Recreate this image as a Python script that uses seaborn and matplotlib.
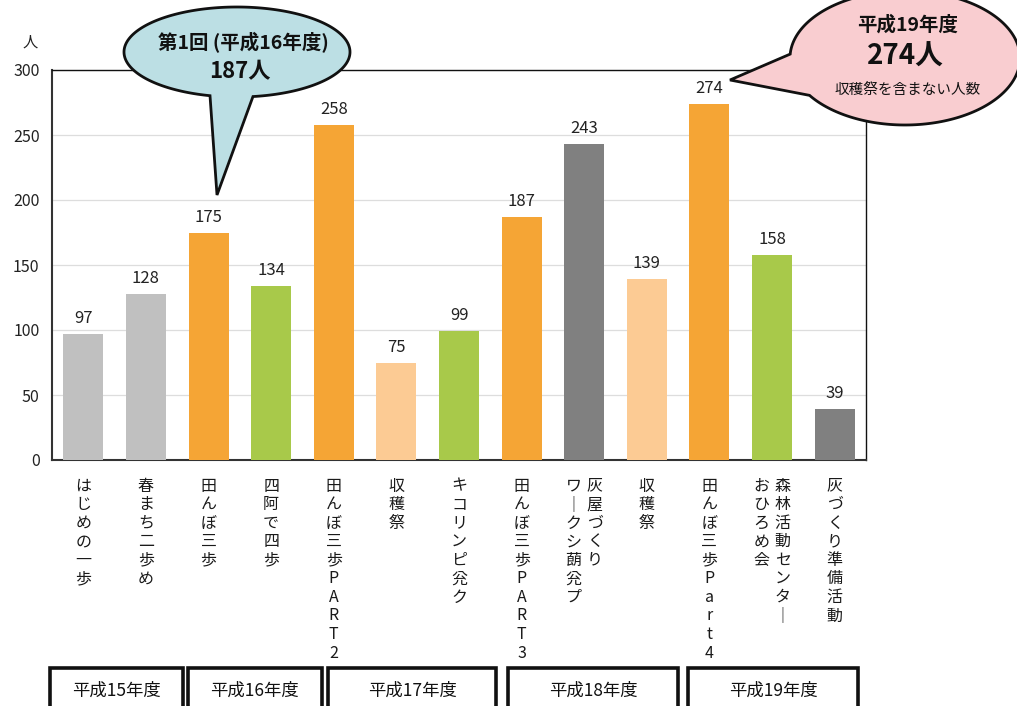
import numpy as np
import pandas as pd
import matplotlib
matplotlib.use("Agg")
import matplotlib.pyplot as plt
import matplotlib.transforms as mtransforms
from matplotlib.patches import Polygon, Rectangle
import seaborn as sns

# ---------------- data ----------------
label_columns = [
    ["はじめの一歩"],
    ["春まち二歩め"],
    ["田んぼ三歩"],
    ["四阿で四歩"],
    ["田んぼ三歩PART2"],
    ["収穫祭"],
    ["キコリンピ兊ク"],
    ["田んぼ三歩PART3"],
    ["灰屋づくり", "ワ｜クシ蓢兊プ"],
    ["収穫祭"],
    ["田んぼ三歩Part4"],
    ["森林活動センタ｜", "おひろめ会"],
    ["灰づくり準備活動"],
]
values = [97, 128, 175, 134, 258, 75, 99, 187, 243, 139, 274, 158, 39]
bar_colors = ["#c0c0c0", "#c0c0c0", "#f5a535", "#a8c94a", "#f5a535", "#fccb94",
              "#a8c94a", "#f5a535", "#808080", "#fccb94", "#f5a535", "#a8c94a", "#808080"]
year_labels = ["平成15年度", "平成16年度", "平成17年度", "平成18年度", "平成19年度"]
year_spans = [(-0.53, 1.59), (1.67, 3.81), (3.91, 6.59), (6.78, 9.50), (9.66, 12.37)]
yticks = [0, 50, 100, 150, 200, 250, 300]

sns.set_theme(style="white")
plt.rcParams["font.family"] = ["Noto Sans CJK JP", "DejaVu Sans"]

W, H = 1017, 706
fig = plt.figure(figsize=(W / 100, H / 100), dpi=100)
ax = fig.add_axes([52 / W, 1 - 460 / H, (866 - 52) / W, (460 - 70) / H])

ids = [f"b{i}" for i in range(len(values))]
df = pd.DataFrame({"id": ids, "value": values})
sns.barplot(data=df, x="id", y="value", hue="id", order=ids, hue_order=ids,
            palette=dict(zip(ids, bar_colors)), saturation=1, width=0.64,
            legend=False, ax=ax, zorder=3, edgecolor="none")

ax.set_xlim(-0.5, len(values) - 0.5)
ax.set_ylim(0, 300)
ax.set_yticks(yticks)
ax.set_yticklabels([str(t) for t in yticks], fontsize=11.5, color="#222222")
ax.tick_params(axis="y", length=0, pad=9)
ax.set_xticks(range(len(values)))
ax.set_xticklabels([])
ax.tick_params(axis="x", length=0)
ax.set_xlabel("")
ax.set_ylabel("")
ax.yaxis.grid(True, color="#dddddd", lw=0.9, zorder=0)
ax.set_axisbelow(True)
for s in ["left", "bottom"]:
    ax.spines[s].set_color("#333333")
    ax.spines[s].set_linewidth(1.5)
for s in ["top", "right"]:
    ax.spines[s].set_color("#111111")
    ax.spines[s].set_linewidth(1.0)

# value labels
for i, v in enumerate(values):
    ax.annotate(str(v), (i, v), xytext=(0, 5), textcoords="offset points",
                ha="center", va="bottom", fontsize=12, color="#222222", zorder=5)

# vertical category labels
trans = mtransforms.blended_transform_factory(ax.transData, ax.transAxes)
for i, cols in enumerate(label_columns):
    n = len(cols)
    offsets = [0.0] if n == 1 else [0.17, -0.17]
    for col, off in zip(cols, offsets):
        ax.text(i + off, -0.045, "\n".join(col), transform=trans, ha="center",
                va="top", fontsize=11.5, linespacing=1.12, color="#1a1a1a",
                multialignment="center")

# y unit
fig.text(30 / W, 1 - 42 / H, "人", ha="center", va="center", fontsize=11, color="#222222")

# year boxes
btrans = mtransforms.blended_transform_factory(ax.transData, fig.transFigure)
for lab, (x0, x1) in zip(year_labels, year_spans):
    y0 = 1 - 720 / H
    y1 = 1 - 668 / H
    r = Rectangle((x0, y0), x1 - x0, y1 - y0, transform=btrans, fill=False,
                  lw=2.6, edgecolor="#111111", clip_on=False)
    fig.add_artist(r)
    ax.text((x0 + x1) / 2, 1 - 691 / H, lab, transform=btrans, ha="center",
            va="center", fontsize=12.5, color="#111111", clip_on=False)


def px(x, y):
    return (x / W, 1 - y / H)


def bubble(cx, cy, a, b, th_gap0, th_gap1, tip, color):
    th = np.linspace(th_gap1, th_gap0 + 2 * np.pi, 200)
    pts = [px(cx + a * np.cos(t), cy + b * np.sin(t)) for t in th]
    pts.append(px(*tip))
    poly = Polygon(pts, closed=True, facecolor=color, edgecolor="#111111",
                   lw=2.0, transform=fig.transFigure, zorder=10, clip_on=False)
    fig.add_artist(poly)


# bubble 1
bubble(237, 52, 113, 45, 1.429, 1.812, (217, 195), "#bcdfe4")
fig.text(*px(243, 43), "第1回 (平成16年度)", ha="center", va="center",
         fontsize=14, fontweight="bold", color="#111111", zorder=11)
fig.text(*px(240, 72), "187人", ha="center", va="center",
         fontsize=16, fontweight="bold", color="#111111", zorder=11)

# bubble 2
bubble(905, 58, 115, 67, 2.55, 3.2, (730, 80), "#f9cdd0")
fig.text(*px(908, 25), "平成19年度", ha="center", va="center",
         fontsize=14, fontweight="bold", color="#111111", zorder=11)
fig.text(*px(905, 57), "274人", ha="center", va="center",
         fontsize=20, fontweight="bold", color="#111111", zorder=11)
fig.text(*px(908, 90), "収穫祭を含まない人数", ha="center", va="center",
         fontsize=10.5, color="#111111", zorder=11)

fig.savefig("out.png", dpi=100)
